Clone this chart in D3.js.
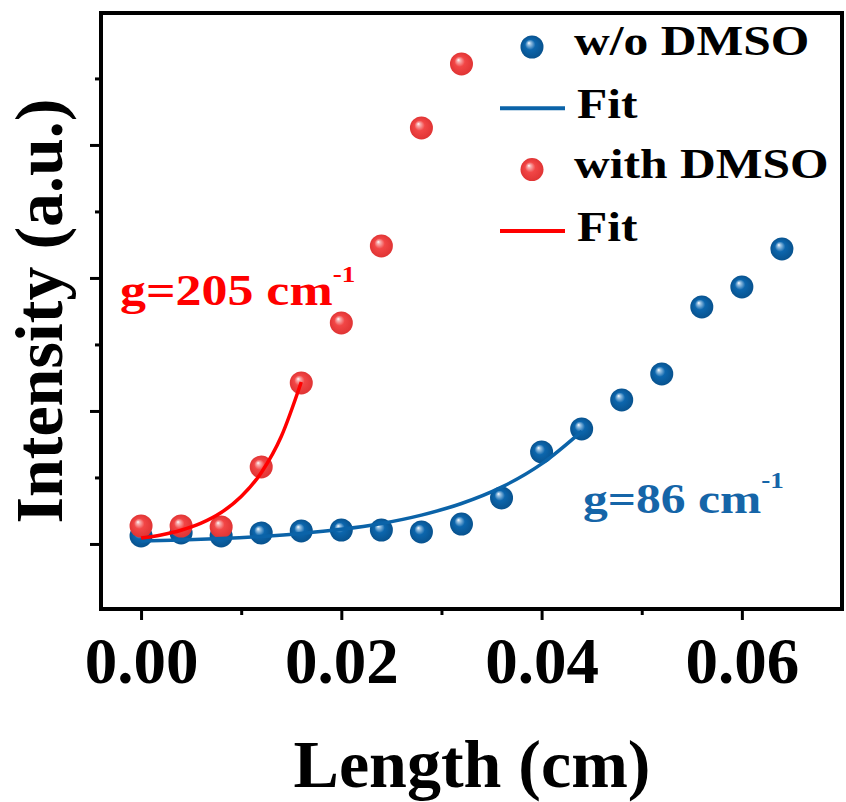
<!DOCTYPE html>
<html>
<head>
<meta charset="utf-8">
<script src="https://cdn.jsdelivr.net/npm/d3@7"></script>
<style>
  body { margin: 0; background: #fff; }
  svg text { font-family: "Liberation Serif", "Times New Roman", serif; font-weight: bold; }
</style>
</head>
<body>
<div id="chart"></div>
<script>
// Data (intensity in arbitrary units, 1 unit = one major tick)
const lengths = [0, 0.004, 0.008, 0.012, 0.016, 0.020, 0.024, 0.028, 0.032, 0.036, 0.040, 0.044, 0.048, 0.052, 0.056, 0.060, 0.064];
const noDmso = [0.060, 0.083, 0.060, 0.083, 0.098, 0.105, 0.105, 0.090, 0.150, 0.346, 0.692, 0.865, 1.083, 1.278, 1.782, 1.932, 2.218];

const lengthsDmso = [0, 0.004, 0.008, 0.012, 0.016, 0.020, 0.024, 0.028, 0.032];
const withDmso = [0.135, 0.135, 0.128, 0.579, 1.211, 1.662, 2.241, 3.128, 3.609];

// fit curves
const fitBlueX = [0, 0.004, 0.008, 0.012, 0.016, 0.020, 0.024, 0.028, 0.032, 0.036, 0.040, 0.044];
const fitBlueY = [0.023, 0.030, 0.041, 0.057, 0.079, 0.110, 0.154, 0.217, 0.304, 0.427, 0.602, 0.847];
const fitRedX = [0, 0.002, 0.004, 0.006, 0.008, 0.010, 0.012, 0.014, 0.016];
const fitRedY = [0.045, 0.068, 0.103, 0.156, 0.236, 0.356, 0.536, 0.808, 1.218];

const xMajor = [0, 0.02, 0.04, 0.06];
const xMinor = [0.01, 0.03, 0.05];
const yMajor = [0, 1, 2, 3];
const yMinor = [0.5, 1.5, 2.5, 3.5];

const legendItems = [
  {label: "w/o DMSO", type: "ball", color: "blue"},
  {label: "Fit", type: "line", color: "blue"},
  {label: "with DMSO", type: "ball", color: "red"},
  {label: "Fit", type: "line", color: "red"}
];

const blue = "#0b63a8";
const red = "#ff0000";

const width = 846;
const height = 802;
const plotLeft = 101, plotRight = 842, plotTop = 13, plotBottom = 609;

const svg = d3.select("#chart")
  .append("svg")
  .attr("width", width)
  .attr("height", height);

// shaded ball gradients
const defs = svg.append("defs");
function ballGradient(id, light, base, dark) {
  const g = defs.append("radialGradient")
    .attr("id", id)
    .attr("cx", "50%").attr("cy", "50%").attr("r", "50%")
    .attr("fx", "36%").attr("fy", "32%");
  g.append("stop").attr("offset", "0%").attr("stop-color", "#ffffff");
  g.append("stop").attr("offset", "14%").attr("stop-color", light);
  g.append("stop").attr("offset", "45%").attr("stop-color", base);
  g.append("stop").attr("offset", "100%").attr("stop-color", dark);
}
ballGradient("ballBlue", "#9cc4e4", "#0c66ad", "#08528e");
ballGradient("ballRed", "#f8b0b0", "#f24646", "#e03434");

const x = d3.scaleLinear().domain([-0.004, 0.07]).range([plotLeft, plotRight]);
const y = d3.scaleLinear().domain([-0.489, 3.992]).range([plotBottom, plotTop]);

// x axis ticks
const xAxis = svg.append("g")
  .attr("transform", `translate(0,${plotBottom})`)
  .call(d3.axisBottom(x).tickValues(xMajor).tickSize(11).tickFormat(d3.format(".2f")));
xAxis.select(".domain").remove();
xAxis.selectAll("line").attr("stroke", "#000").attr("stroke-width", 3);
xAxis.selectAll("text")
  .attr("y", 74).attr("dy", null)
  .attr("fill", "#000")
  .style("font-size", "65px");

const xAxisMinor = svg.append("g")
  .attr("transform", `translate(0,${plotBottom})`)
  .call(d3.axisBottom(x).tickValues(xMinor).tickSize(6).tickFormat(""));
xAxisMinor.select(".domain").remove();
xAxisMinor.selectAll("line").attr("stroke", "#000").attr("stroke-width", 3);

// y axis ticks, no labels
const yAxis = svg.append("g")
  .attr("transform", `translate(${plotLeft},0)`)
  .call(d3.axisLeft(y).tickValues(yMajor).tickSize(11).tickFormat(""));
yAxis.select(".domain").remove();
yAxis.selectAll("line").attr("stroke", "#000").attr("stroke-width", 3);

const yAxisMinor = svg.append("g")
  .attr("transform", `translate(${plotLeft},0)`)
  .call(d3.axisLeft(y).tickValues(yMinor).tickSize(6).tickFormat(""));
yAxisMinor.select(".domain").remove();
yAxisMinor.selectAll("line").attr("stroke", "#000").attr("stroke-width", 3);

// frame
svg.append("rect")
  .attr("x", plotLeft).attr("y", plotTop)
  .attr("width", plotRight - plotLeft).attr("height", plotBottom - plotTop)
  .attr("fill", "none").attr("stroke", "#000").attr("stroke-width", 4);

// axis titles
svg.append("text")
  .attr("x", 472).attr("y", 787)
  .attr("text-anchor", "middle")
  .style("font-size", "68px")
  .text("Length (cm)");

svg.append("text")
  .attr("transform", "translate(62,311) rotate(-90)")
  .attr("text-anchor", "middle")
  .style("font-size", "68px")
  .text("Intensity (a.u.)");

const r = 11.5;

// data points
svg.append("g").selectAll("circle")
  .data(lengths.map((d, i) => [d, noDmso[i]]))
  .enter().append("circle")
  .attr("cx", d => x(d[0])).attr("cy", d => y(d[1]))
  .attr("r", r)
  .attr("fill", "url(#ballBlue)");

svg.append("g").selectAll("circle")
  .data(lengthsDmso.map((d, i) => [d, withDmso[i]]))
  .enter().append("circle")
  .attr("cx", d => x(d[0])).attr("cy", d => y(d[1]))
  .attr("r", r)
  .attr("fill", "url(#ballRed)");

// fit lines
const line = d3.line()
  .x(d => x(d[0])).y(d => y(d[1]))
  .curve(d3.curveMonotoneX);

svg.append("path")
  .datum(fitBlueX.map((d, i) => [d, fitBlueY[i]]))
  .attr("d", line)
  .attr("fill", "none").attr("stroke", blue).attr("stroke-width", 3.5);

svg.append("path")
  .datum(fitRedX.map((d, i) => [d, fitRedY[i]]))
  .attr("d", line)
  .attr("fill", "none").attr("stroke", red).attr("stroke-width", 3.5);

// gain annotations
function gainLabel(xPos, yPos, size, supDy, color, value) {
  const t = svg.append("text")
    .attr("transform", `translate(${xPos},${yPos}) scale(1.18,1)`)
    .attr("fill", color)
    .style("font-size", size + "px");
  t.append("tspan").text(`g=${value} cm`);
  t.append("tspan").attr("dy", supDy).style("font-size", "23px").text("-1");
}
gainLabel(120, 305, 44, -23, red, 205);
gainLabel(583, 513, 42, -25, "#1565a8", 86);

// legend
const legend = svg.append("g");
legendItems.forEach((item, i) => {
  const rowY = 47 + i * 61.3;
  const g = legend.append("g").attr("transform", `translate(0,${rowY})`);
  if (item.type === "ball") {
    g.append("circle")
      .attr("cx", 532).attr("cy", 0).attr("r", r)
      .attr("fill", item.color === "blue" ? "url(#ballBlue)" : "url(#ballRed)");
  } else {
    g.append("line")
      .attr("x1", 500).attr("x2", 565)
      .attr("y1", 0).attr("y2", 0)
      .attr("stroke", item.color === "blue" ? blue : red)
      .attr("stroke-width", 4);
  }
  g.append("text")
    .attr("transform", `translate(${item.type === "ball" ? 574 : 577},${item.type === "ball" ? 8 : 10}) scale(1.18,1)`)
    .style("font-size", "42px")
    .text(item.label);
});
</script>
</body>
</html>
